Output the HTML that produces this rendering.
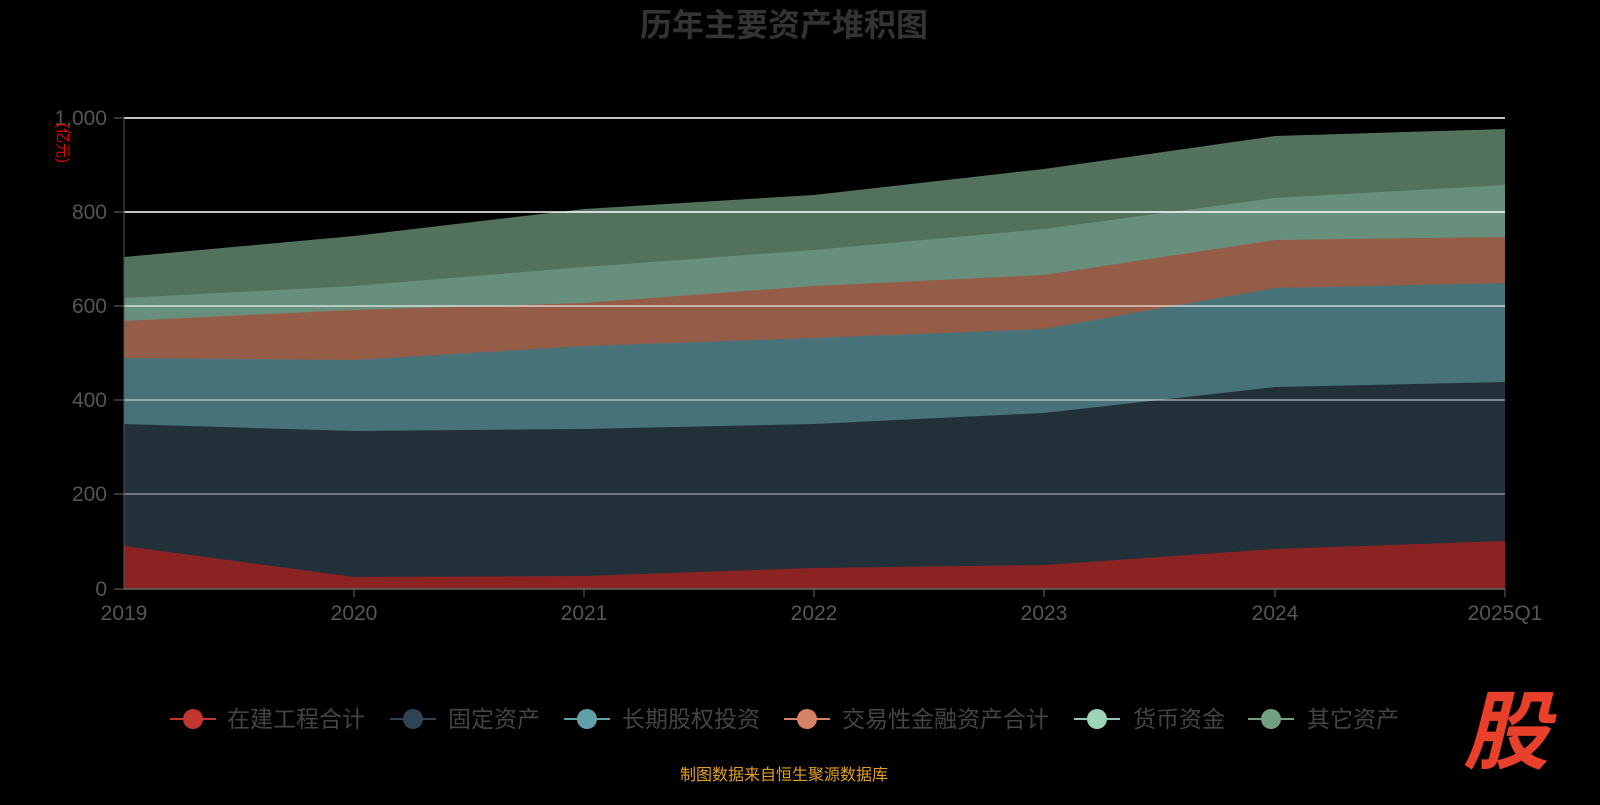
<!DOCTYPE html>
<html><head><meta charset="utf-8"><style>
body{margin:0;background:#000;}
svg text{font-family:"Liberation Sans","Noto Sans CJK SC",sans-serif;}
</style></head><body>
<svg width="1600" height="800" viewBox="0 0 1600 800" xmlns="http://www.w3.org/2000/svg">
<rect width="1600" height="800" fill="#000"/>
<text x="784" y="36" font-size="32" font-weight="bold" fill="#333" text-anchor="middle">历年主要资产堆积图</text>
<polygon fill="#53725E" points="124,257 354,236 584,209 814,195 1044,169 1275,136 1505,129 1505,589 124,589"/>
<polygon fill="#678F7C" points="124,298 354,286 584,267 814,250 1044,229 1275,198 1505,185 1505,589 124,589"/>
<polygon fill="#955D48" points="124,321 354,310 584,303 814,286 1044,275 1275,240 1505,237 1505,589 124,589"/>
<polygon fill="#467278" points="124,358 354,360 584,346 814,338 1044,329 1275,288 1505,283 1505,589 124,589"/>
<polygon fill="#22303A" points="124,424 354,431 584,429 814,424 1044,413 1275,387 1505,382 1505,589 124,589"/>
<polygon fill="#8B2323" points="124,546 354,577 584,576 814,568 1044,565 1275,549 1505,541 1505,589 124,589"/>
<g stroke-width="1.5">
<line x1="124" x2="1505" y1="118" y2="118" stroke="#fff"/>
<line x1="124" x2="1505" y1="212" y2="212" stroke="#fff"/>
<line x1="124" x2="1505" y1="306" y2="306" stroke="rgba(255,255,255,0.7)"/>
<line x1="124" x2="1505" y1="400" y2="400" stroke="rgba(255,255,255,0.55)"/>
<line x1="124" x2="1505" y1="494" y2="494" stroke="rgba(255,255,255,0.45)"/>
</g>
<line x1="124" x2="124" y1="118" y2="589" stroke="#555"/>
<line x1="124" x2="1505" y1="589" y2="589" stroke="#666" stroke-width="1.5"/>
<g stroke="#666"><line x1="114" x2="124" y1="118" y2="118"/><line x1="114" x2="124" y1="212" y2="212"/><line x1="114" x2="124" y1="306" y2="306"/><line x1="114" x2="124" y1="400" y2="400"/><line x1="114" x2="124" y1="494" y2="494"/><line x1="114" x2="124" y1="589" y2="589"/>
<line x1="354" x2="354" y1="589" y2="597"/><line x1="584" x2="584" y1="589" y2="597"/><line x1="814" x2="814" y1="589" y2="597"/><line x1="1044" x2="1044" y1="589" y2="597"/><line x1="1275" x2="1275" y1="589" y2="597"/><line x1="1505" x2="1505" y1="589" y2="597"/></g>
<g font-size="21" fill="#555" text-anchor="end">
<text x="107" y="125">1,000</text><text x="107" y="219">800</text><text x="107" y="313">600</text><text x="107" y="407">400</text><text x="107" y="501">200</text><text x="107" y="596">0</text></g>
<g font-size="21" fill="#555" text-anchor="middle">
<text x="124" y="620">2019</text><text x="354" y="620">2020</text><text x="584" y="620">2021</text><text x="814" y="620">2022</text><text x="1044" y="620">2023</text><text x="1275" y="620">2024</text><text x="1505" y="620">2025Q1</text></g>
<text transform="translate(58,143) rotate(90)" font-size="15" fill="#e00" text-anchor="middle">(亿元)</text>
<g font-size="23" fill="#444">
<line x1="170" x2="216" y1="719" y2="719" stroke="#C23531" stroke-width="2"/><circle cx="193" cy="719" r="10" fill="#C23531"/><text x="227" y="727">在建工程合计</text>
<line x1="390" x2="436" y1="719" y2="719" stroke="#2F4554" stroke-width="2"/><circle cx="413" cy="719" r="10" fill="#2F4554"/><text x="448" y="727">固定资产</text>
<line x1="564" x2="610" y1="719" y2="719" stroke="#61A0A8" stroke-width="2"/><circle cx="587" cy="719" r="10" fill="#61A0A8"/><text x="622" y="727">长期股权投资</text>
<line x1="784" x2="830" y1="719" y2="719" stroke="#D48265" stroke-width="2"/><circle cx="807" cy="719" r="10" fill="#D48265"/><text x="842" y="727">交易性金融资产合计</text>
<line x1="1074" x2="1120" y1="719" y2="719" stroke="#91C7AE" stroke-width="2"/><circle cx="1097" cy="719" r="10" fill="#9BD4B8"/><text x="1133" y="727">货币资金</text>
<line x1="1248" x2="1294" y1="719" y2="719" stroke="#749F83" stroke-width="2"/><circle cx="1271" cy="719" r="10" fill="#749F83"/><text x="1307" y="727">其它资产</text>
</g>
<text x="784" y="780" font-size="16" fill="#E0A020" text-anchor="middle">制图数据来自恒生聚源数据库</text>
<text x="1506" y="762" font-size="86" font-weight="bold" font-style="italic" fill="#E8402A" text-anchor="middle">股</text>
</svg>
</body></html>
